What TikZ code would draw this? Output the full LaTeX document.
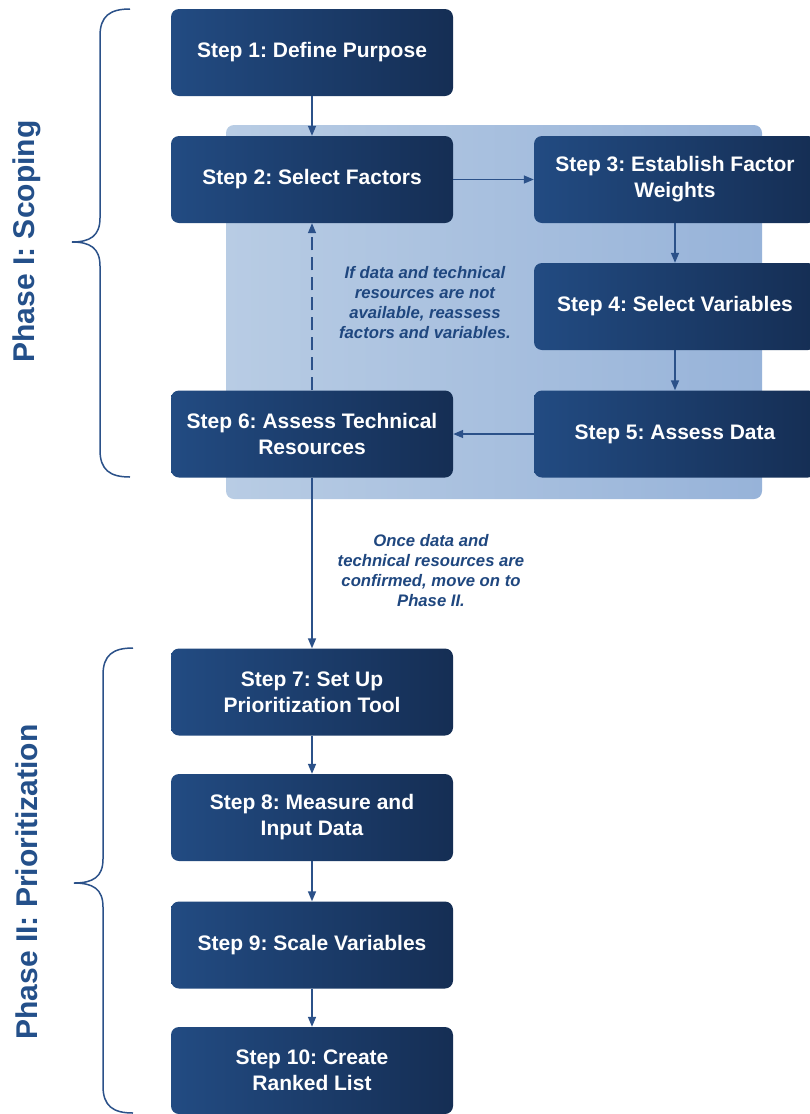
\documentclass[tikz,border=0pt]{standalone}
\usepackage{fontspec}
\setmainfont{Liberation Sans}
\usetikzlibrary{arrows.meta}
\definecolor{boxL}{HTML}{224B82}
\definecolor{boxR}{HTML}{152E54}
\definecolor{panelL}{HTML}{B8CCE4}
\definecolor{panelR}{HTML}{97B3D9}
\definecolor{arr}{HTML}{2B5189}
\definecolor{note}{HTML}{1F477F}
\definecolor{phase}{HTML}{24508A}
\tikzset{
  stepbox/.style={rounded corners=8pt, minimum width=282pt, minimum height=87pt,
    left color=boxL, right color=boxR, draw=none, align=center, text=white,
    font=\fontsize{21}{26}\selectfont\bfseries\frenchspacing, inner sep=0pt},
  conn/.style={draw=arr, line width=1.5pt, -{Triangle[length=10pt,width=8pt]}},
  notetext/.style={align=center, text=note, font=\fontsize{16.7}{20}\selectfont\bfseries\itshape\frenchspacing},
  phaselabel/.style={rotate=90, text=phase, font=\fontsize{30}{36}\selectfont\bfseries\frenchspacing},
  bracestyle/.style={draw=arr, line width=1.5pt}
}
\begin{document}
\begin{tikzpicture}[x=1pt,y=-1pt]
\useasboundingbox (0,0) rectangle (810,1114);
\fill[white] (0,0) rectangle (810,1114);
% panel
\shade[rounded corners=8pt, left color=panelL, right color=panelR] (226,125) rectangle (762,499);
% steps
\node[stepbox] (s1) at (312,52.5) {Step 1: Define Purpose};
\node[stepbox] (s2) at (312,179.5) {Step 2: Select Factors};
\node[stepbox] (s3) at (675,179.5) {Step 3: Establish Factor\\Weights};
\node[stepbox] (s4) at (675,306.5) {Step 4: Select Variables};
\node[stepbox] (s5) at (675,434) {Step 5: Assess Data};
\node[stepbox] (s6) at (312,434) {Step 6: Assess Technical\\Resources};
\node[stepbox] (s7) at (312,692) {Step 7: Set Up\\Prioritization Tool};
\node[stepbox] (s8) at (312,817.5) {Step 8: Measure and\\Input Data};
\node[stepbox] (s9) at (312,945) {Step 9: Scale Variables};
\node[stepbox] (s10) at (312,1070.5) {Step 10: Create\\Ranked List};
% connectors
\draw[conn] (s1) -- (s2);
\draw[conn] (s2) -- (s3);
\draw[conn] (s3) -- (s4);
\draw[conn] (s4) -- (s5);
\draw[conn] (s5) -- (s6);
\draw[conn, dash pattern=on 13pt off 7pt] (s6) -- (s2);
\draw[conn] (s6) -- (s7);
\draw[conn] (s7) -- (s8);
\draw[conn] (s8) -- (s9);
\draw[conn] (s9) -- (s10);
% notes
\node[notetext] (n1) at (425,302.5) {If data and technical\\resources are not\\available, reassess\\factors and variables.};
\node[notetext] (n2) at (431,570.5) {Once data and\\technical resources are\\confirmed, move on to\\Phase II.};
% braces
\draw[bracestyle] (130,9) .. controls (110,9) and (100,16) .. (100,36) -- (100,218)
  .. controls (100,236) and (90,242) .. (72,242)
  .. controls (90,242) and (100,248) .. (100,266) -- (100,450)
  .. controls (100,470) and (110,477) .. (130,477);
\draw[bracestyle] (133,648) .. controls (113,648) and (103,655) .. (103,675) -- (103,859)
  .. controls (103,877) and (93,883) .. (74,883)
  .. controls (93,883) and (103,889) .. (103,907) -- (103,1086)
  .. controls (103,1106) and (113,1113) .. (133,1113);
% phase labels
\node[phaselabel] (p1) at (27,241.5) {Phase I: Scoping};
\node[phaselabel] (p2) at (27,882) {Phase II: Prioritization};
\end{tikzpicture}
\end{document}
